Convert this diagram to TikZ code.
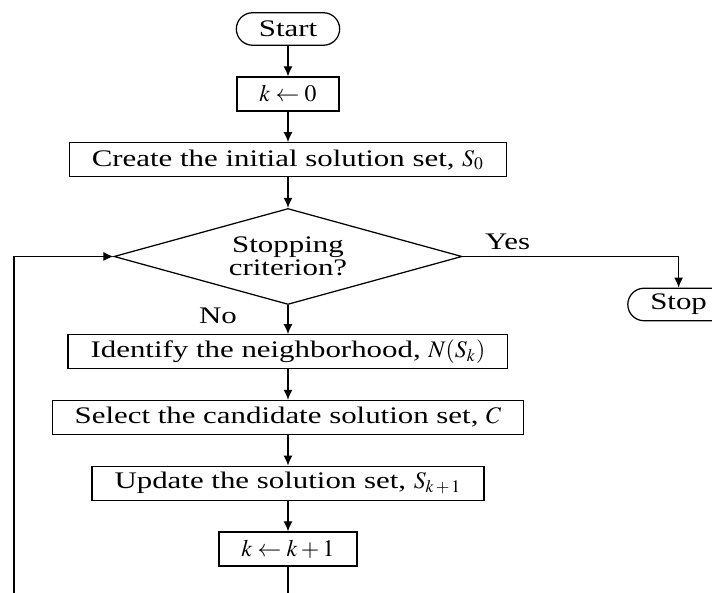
\documentclass[tikz,border=0pt]{standalone}
\usepackage{mathptmx}
\usepackage{fontspec}
\setmainfont{Liberation Serif}[FakeStretch=1.3]
\usetikzlibrary{positioning,shapes.geometric,arrows.meta}

\begin{document}
\begin{tikzpicture}[
  box/.style={draw, line width=0.5pt, minimum height=13.6pt, inner xsep=9pt, inner ysep=2pt, font=\fontsize{9.5pt}{11pt}\selectfont},
  term/.style={box, rounded corners=6.5pt, minimum height=13pt},
  test/.style={box, diamond, aspect=3.6, inner sep=0pt, minimum width=139.2pt, minimum height=38.4pt, align=center, font=\fontsize{9.5pt}{7.9pt}\selectfont},
  flow/.style={-{Latex[length=4pt,width=3.6pt]}, line width=0.5pt},
  ans/.style={font=\fontsize{9.5pt}{11pt}\selectfont},
  node distance=12.2pt]
\useasboundingbox (-115.2pt,11.6pt) rectangle (169.6pt,-225.6pt);
\node[term] (start) at (0,0) {Start};
\node[box, below=of start] (k0) {$k \leftarrow 0$};
\node[box, below=of k0] (init) {Create the initial solution set, $S_0$};
\node[test, below=of init] (stopq) {Stopping\\criterion?};
\node[box, below=11.6pt of stopq] (nbr) {Identify the neighborhood, $N(S_k)$};
\node[box, below=of nbr] (cand) {Select the candidate solution set, $C$};
\node[box, below=of cand] (upd) {Update the solution set, $S_{k\,+\,1}$};
\node[box, below=of upd] (k1) {$k \leftarrow k + 1$};
\node[term] (stop) at ([xshift=86.4pt, yshift=-19.2pt]stopq.east) {Stop};
\coordinate (back) at (-109.6pt,-240pt);
\draw[flow] (start) -- (k0);
\draw[flow] (k0) -- (init);
\draw[flow] (init) -- (stopq);
\draw[flow] (stopq) -- (nbr);
\draw[flow] (nbr) -- (cand);
\draw[flow] (cand) -- (upd);
\draw[flow] (upd) -- (k1);
\draw[flow] (stopq.east) -| (stop.north);
\draw[flow] (k1.south) |- (back) |- (stopq.west);
\node[ans] at ([xshift=18pt, yshift=6pt]stopq.east) {Yes};
\node[ans] at ([xshift=-28pt, yshift=-4.4pt]stopq.south) {No};
\end{tikzpicture}
\end{document}
